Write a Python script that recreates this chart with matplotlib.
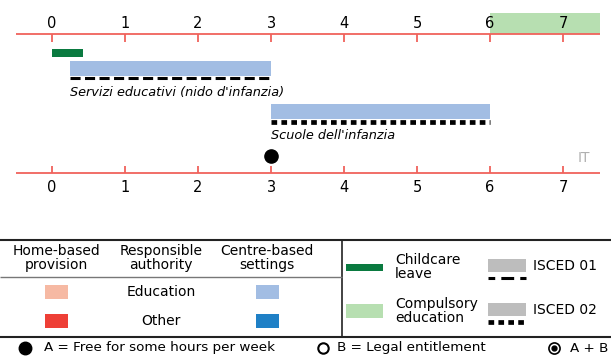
import matplotlib
matplotlib.use('Agg')
import matplotlib.pyplot as plt

plt.rcParams['font.family'] = ['DejaVu Sans']

# timeline data (age in years)
ages = [0, 1, 2, 3, 4, 5, 6, 7]
age_min, age_max = -0.5, 7.5
leave = (0, 0.42)
compulsory = (6, 7.5)
service_names = ["Servizi educativi (nido d'infanzia)", "Scuole dell'infanzia"]
service_start = [0.25, 3]
service_end = [3, 6]
service_isced = ['ISCED 01', 'ISCED 02']
free_hours_age = 3
country = 'IT'

# legend texts
headers = ['Home-based\nprovision', 'Responsible\nauthority', 'Centre-based\nsettings']
authorities = ['Education', 'Other']
notes = ['A = Free for some hours per week', 'B = Legal entitlement', 'A + B']

RED = '#f0625c'
BLUE_LIGHT = '#a2bde3'
BLUE_DARK = '#1f80c6'
SALMON = '#f6b9a3'
RED_BOX = '#ee3f36'
GREEN_DARK = '#0a7a40'
GREEN_LIGHT = '#b7dfb1'
GRAY = '#bdbdbd'

PX = 73.0  # pixels per year
fig = plt.figure(figsize=(6.11, 3.58), dpi=100)

# ---- timeline, x in years, y in pixels from top
ax = fig.add_axes([0, 0, 1, 1])
ax.set_xlim(-52 / PX, (611 - 52) / PX)
ax.set_ylim(358, 0)
ax.axis('off')

top_y, bot_y = 34, 173
ax.barh(23.5, compulsory[1] - compulsory[0], left=compulsory[0], height=21,
        color=GREEN_LIGHT, zorder=1)
for y, d in [(top_y, 8), (bot_y, -7)]:
    ax.hlines(y, age_min, age_max, color=RED, lw=1.3, zorder=2)
    ax.vlines(ages, y, y + d, color=RED, lw=1.3, zorder=2)
for a in ages:
    ax.text(a, 23, str(a), ha='center', va='center', fontsize=10.5)
    ax.text(a, 188, str(a), ha='center', va='center', fontsize=10.5)

ax.barh(53, leave[1] - leave[0], left=leave[0], height=7.5, color=GREEN_DARK)

bar_y = [68, 111]
styles = [dict(lw=2.2, ls=(0, (3.3, 1.45))), dict(lw=3.4, ls=(0, (1.2, 0.9)))]
line_off = [10, 11]
for i in range(len(service_names)):
    s, e = service_start[i], service_end[i]
    ax.barh(bar_y[i], e - s, left=s, height=15, color=BLUE_LIGHT)
    ax.plot([s, e], [bar_y[i] + line_off[i]] * 2, color='black',
            solid_capstyle='butt', dash_capstyle='butt', **styles[i])
    ax.text(s, bar_y[i] + 24.5, service_names[i], ha='left', va='center',
            fontsize=9.3, style='italic')

ax.plot(free_hours_age, 156, 'o', color='black', markersize=9.5)
ax.text((584 - 52) / PX, 158, country, ha='center', va='center',
        fontsize=10, color='#b0b0b0')

# ---- legend, pixel coordinates
lg = fig.add_axes([0, 0, 1, 1])
lg.set_xlim(0, 611)
lg.set_ylim(358, 0)
lg.axis('off')

lg.hlines([240, 337], 0, 611, color='#222222', lw=1.5)
lg.vlines(342, 240, 337, color='#222222', lw=1.2)
lg.hlines(277, 0, 342, color='#777777', lw=1)

col_x = [56, 161, 267]
for x, h in zip(col_x, headers):
    lg.text(x, 258, h, ha='center', va='center', fontsize=10, linespacing=0.95)
row_y = [292, 321]
for y, name, home_c, centre_c in zip(row_y, authorities, [SALMON, RED_BOX],
                                     [BLUE_LIGHT, BLUE_DARK]):
    lg.text(col_x[1], y, name, ha='center', va='center', fontsize=10)
    lg.barh(y, 23, left=col_x[0] - 11.5, height=14, color=home_c)
    lg.barh(y, 23, left=col_x[2] - 11.5, height=14, color=centre_c)

lg.barh(267.5, 37, left=346, height=7, color=GREEN_DARK)
lg.text(395, 267, 'Childcare\nleave', ha='left', va='center', fontsize=10,
        linespacing=0.95)
lg.barh(311, 37, left=346, height=14, color=GREEN_LIGHT)
lg.text(395, 311, 'Compulsory\neducation', ha='left', va='center', fontsize=10,
        linespacing=0.95)

legend_styles = [dict(lw=2.2, ls=(2.0, (4.2, 2.0))), styles[1]]
for y, isced, st in zip([265.5, 309.5], service_isced, legend_styles):
    lg.barh(y, 38, left=488, height=13, color=GRAY)
    lg.plot([488, 526], [y + 12, y + 12], color='black',
            solid_capstyle='butt', dash_capstyle='butt', **st)
    lg.text(533, y + 1, isced, ha='left', va='center', fontsize=10)

lg.plot(25, 348, 'o', color='black', markersize=9)
lg.text(44, 348, notes[0], ha='left', va='center', fontsize=9.7)
lg.plot(323, 348, 'o', mfc='white', mec='black', mew=1.5, markersize=7.5)
lg.text(337, 348, notes[1], ha='left', va='center', fontsize=9.7)
lg.plot(554, 348, 'o', mfc='white', mec='black', mew=1.2, markersize=8)
lg.plot(554, 348, 'o', color='black', markersize=3.5)
lg.text(570, 348, notes[2], ha='left', va='center', fontsize=9.7)

fig.savefig('out.png', dpi=100)
